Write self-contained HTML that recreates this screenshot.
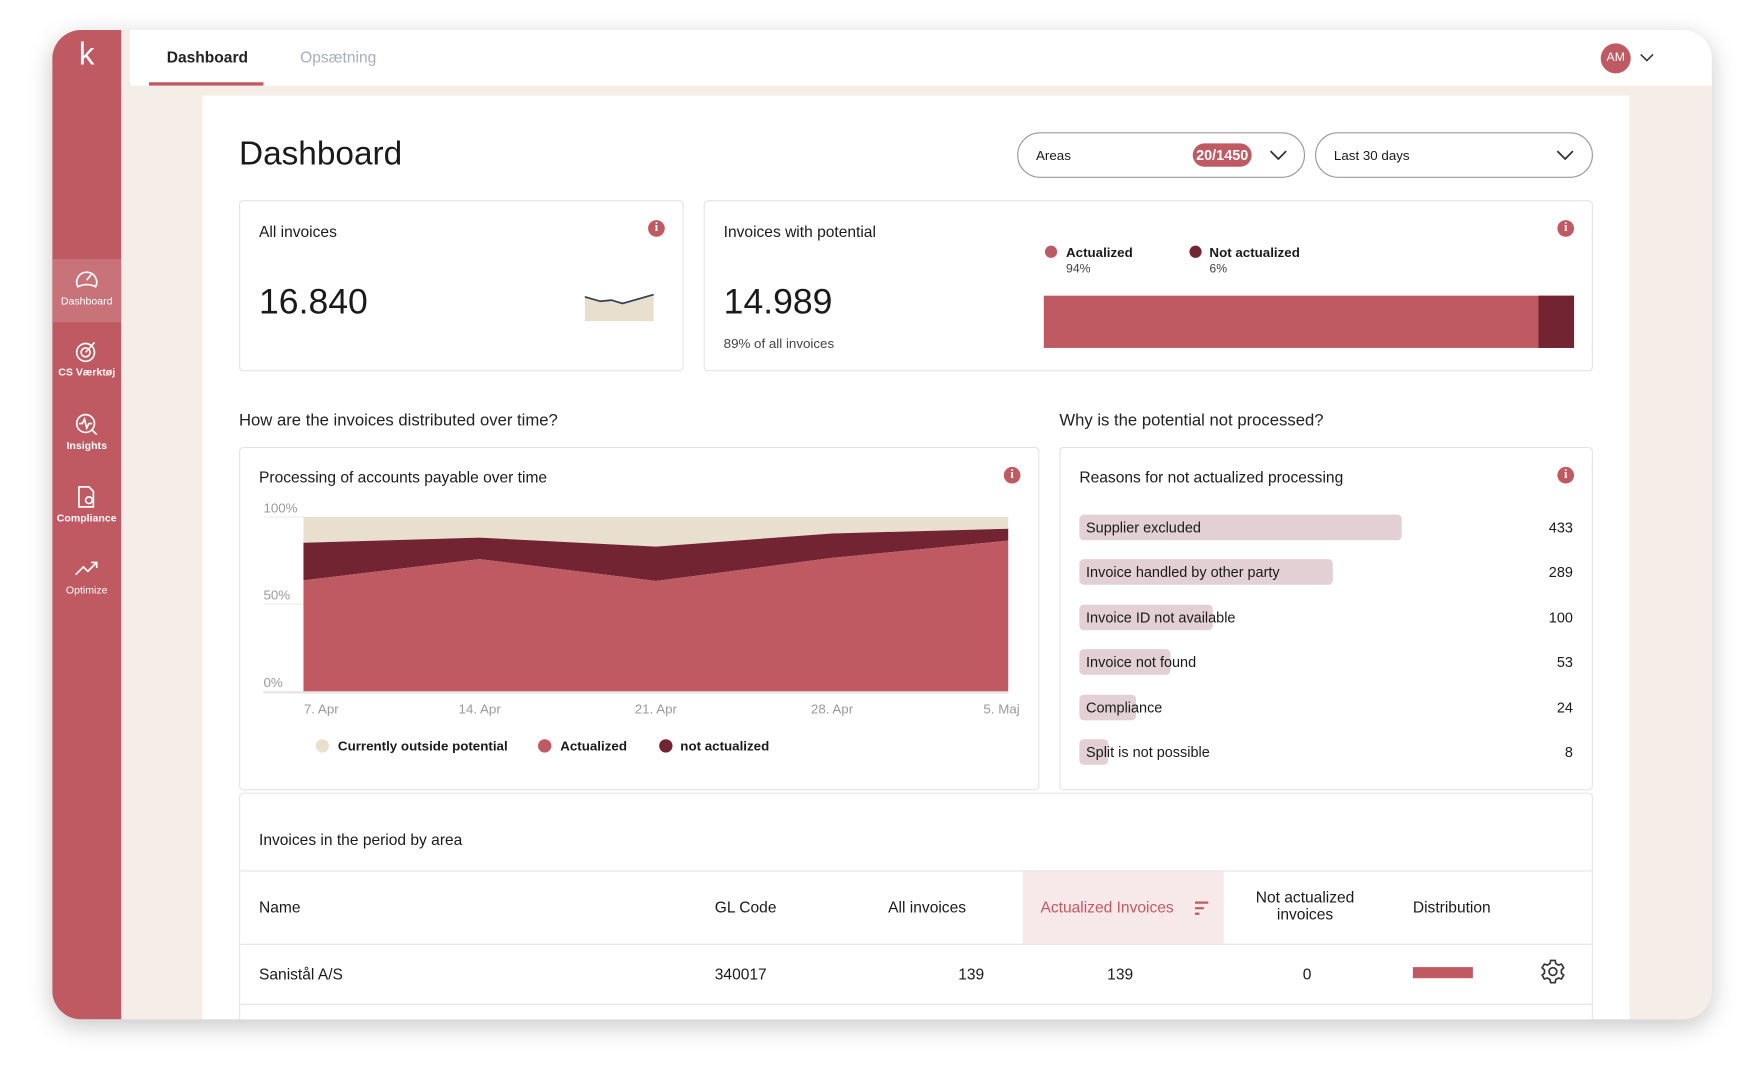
<!DOCTYPE html>
<html><head><meta charset="utf-8">
<style>
*{box-sizing:border-box;margin:0;padding:0}
html,body{width:1743px;height:1075px;overflow:hidden;background:#fff;font-family:"Liberation Sans",sans-serif;color:#1a1a1a}
#wrap{position:absolute;left:0;top:0;width:1568px;height:967px;transform:scale(1.11161);transform-origin:0 0}
.abs{position:absolute}
.app{left:47px;top:27px;width:1493px;height:890px;border-radius:26px;overflow:hidden;background:#f5ede7;box-shadow:0 6px 22px rgba(0,0,0,.22)}
.side{left:0;top:0;width:62px;height:890px;background:#c05a62}
.nav{left:0;width:62px;text-align:center;color:#fff;font-size:9.5px}
.nav svg{display:block;margin:0 auto}
.top{left:70px;top:0;width:1423px;height:50px;background:#fff}
.panel{left:135px;top:59px;width:1284px;height:831px;background:#fff}
.card{position:absolute;background:#fff;border:1px solid #e4e4e4;border-radius:4px}
.t14{font-size:14px}
.info{position:absolute;width:15px;height:15px;border-radius:50%;background:#c05a62;color:#fff;font-size:11px;font-weight:bold;text-align:center;line-height:15px;font-family:"Liberation Serif",serif}
.sel{position:absolute;border:1px solid #999;border-radius:21px;height:41px;font-size:12px}
</style></head><body>
<div id="wrap">
<div class="abs app">
  <div class="abs side">
    <div class="abs" style="left:0;width:62px;top:6px;text-align:center;color:#fff;font-size:28px">k</div>
    <div class="abs nav" style="top:206px;height:57px;background:#c8737a;padding-top:8px"><svg width="22" height="20" viewBox="0 0 22 20"><path d="M3 17 A9 9 0 1 1 19 17 Q11 13 3 17Z" stroke="#fff" stroke-width="1.5" fill="none"/><path d="M11 11 L15 6" stroke="#fff" stroke-width="1.5"/></svg><div style="margin-top:5px">Dashboard</div></div>
    <div class="abs nav" style="top:278px"><svg width="22" height="22" viewBox="0 0 22 22"><circle cx="10" cy="12" r="8" stroke="#fff" stroke-width="1.5" fill="none"/><circle cx="10" cy="12" r="4" stroke="#fff" stroke-width="1.5" fill="none"/><path d="M10 12 L18 3" stroke="#fff" stroke-width="1.5"/></svg><div style="margin-top:3px;font-weight:bold">CS Værktøj</div></div>
    <div class="abs nav" style="top:344px"><svg width="22" height="22" viewBox="0 0 22 22"><circle cx="10" cy="10" r="8" stroke="#fff" stroke-width="1.5" fill="none"/><path d="M4 10 H7 L9 6 L11 14 L13 10 H16 M16 16 L20 20" stroke="#fff" stroke-width="1.5" fill="none"/></svg><div style="margin-top:3px;font-weight:bold">Insights</div></div>
    <div class="abs nav" style="top:409px"><svg width="22" height="22" viewBox="0 0 22 22"><path d="M4 2 H13 L17 6 V20 H4Z" stroke="#fff" stroke-width="1.5" fill="none"/><circle cx="13" cy="14" r="3" stroke="#fff" stroke-width="1.5" fill="none"/></svg><div style="margin-top:3px;font-weight:bold">Compliance</div></div>
    <div class="abs nav" style="top:474px"><svg width="24" height="20" viewBox="0 0 24 20"><path d="M2 16 L9 9 L13 13 L21 5 M16 5 H21 V10" stroke="#fff" stroke-width="1.5" fill="none"/></svg><div style="margin-top:5px">Optimize</div></div>
  </div>
  <div class="abs top">
    <div class="abs" style="left:33px;top:16px;font-size:14px;font-weight:bold;color:#222">Dashboard</div>
    <div class="abs" style="left:17px;top:47px;width:103px;height:3px;background:#c05a62"></div>
    <div class="abs" style="left:153px;top:16px;font-size:14px;color:#a7adc0">Opsætning</div>
    <div class="abs" style="left:1323px;top:12px;width:27px;height:27px;border-radius:50%;background:#c05a62;color:#fff;font-size:11px;text-align:center;line-height:27px">AM</div>
    <svg class="abs" style="left:1358px;top:21px" width="13" height="8"><path d="M1 1 L6.5 6.5 L12 1" stroke="#333" stroke-width="1.4" fill="none"/></svg>
  </div>
  <div class="abs panel"></div>
</div>

<div class="abs" style="left:215px;top:122px;font-size:30px">Dashboard</div>
<div class="sel" style="left:915px;top:119px;width:259px">
  <span class="abs" style="left:16px;top:13px">Areas</span>
  <span class="abs" style="left:157px;top:9px;background:#c05a62;color:#fff;border-radius:11px;padding:3px 3px;font-size:13px;font-weight:bold">20/1450</span>
  <svg class="abs" style="left:226px;top:15px" width="16" height="10"><path d="M1 1 L8 8 L15 1" stroke="#333" stroke-width="1.6" fill="none"/></svg>
</div>
<div class="sel" style="left:1183px;top:119px;width:250px">
  <span class="abs" style="left:16px;top:13px">Last 30 days</span>
  <svg class="abs" style="left:216px;top:15px" width="16" height="10"><path d="M1 1 L8 8 L15 1" stroke="#333" stroke-width="1.6" fill="none"/></svg>
</div>

<div class="card" style="left:215px;top:180px;width:400px;height:154px">
  <div class="abs t14" style="left:17px;top:19px">All invoices</div>
  <div class="info" style="left:367px;top:17px">i</div>
  <div class="abs" style="left:17px;top:72px;font-size:32px">16.840</div>
  <svg class="abs" style="left:310px;top:78px" width="64" height="30"><path d="M0 8 L14 12 L24 11 L34 14 L48 10 L62 6 L62 30 L0 30Z" fill="#e8dfcf"/><path d="M0 8 L14 12 L24 11 L34 14 L48 10 L62 6" stroke="#2f3f55" stroke-width="1.5" fill="none"/></svg>
</div>

<div class="card" style="left:633px;top:180px;width:800px;height:154px">
  <div class="abs t14" style="left:17px;top:19px">Invoices with potential</div>
  <div class="info" style="left:767px;top:17px">i</div>
  <div class="abs" style="left:17px;top:72px;font-size:32px">14.989</div>
  <div class="abs" style="left:17px;top:121px;font-size:12px;color:#444">89% of all invoices</div>
  <div class="abs" style="left:306px;top:40px;width:11px;height:11px;border-radius:50%;background:#c05a62"></div>
  <div class="abs" style="left:325px;top:39px;font-size:12px;font-weight:bold">Actualized</div>
  <div class="abs" style="left:325px;top:55px;font-size:11px;color:#444">94%</div>
  <div class="abs" style="left:436px;top:40px;width:11px;height:11px;border-radius:50%;background:#722432"></div>
  <div class="abs" style="left:454px;top:39px;font-size:12px;font-weight:bold">Not actualized</div>
  <div class="abs" style="left:454px;top:55px;font-size:11px;color:#444">6%</div>
  <div class="abs" style="left:305px;top:85px;width:477px;height:47px;background:#c05a62"></div>
  <div class="abs" style="left:750px;top:85px;width:32px;height:47px;background:#722432"></div>
</div>

<div class="abs" style="left:215px;top:370px;font-size:15px;color:#222">How are the invoices distributed over time?</div>
<div class="abs" style="left:953px;top:370px;font-size:15px;color:#222">Why is the potential not processed?</div>

<div class="card" style="left:215px;top:402px;width:720px;height:309px">
  <div class="abs t14" style="left:17px;top:18px">Processing of accounts payable over time</div>
  <div class="info" style="left:687px;top:17px">i</div>
  <div class="abs" style="left:68px;top:262px;width:12px;height:12px;border-radius:50%;background:#e8dfcf"></div>
  <div class="abs" style="left:88px;top:261px;font-size:12px;font-weight:bold">Currently outside potential</div>
  <div class="abs" style="left:268px;top:262px;width:12px;height:12px;border-radius:50%;background:#c05a62"></div>
  <div class="abs" style="left:288px;top:261px;font-size:12px;font-weight:bold">Actualized</div>
  <div class="abs" style="left:377px;top:262px;width:12px;height:12px;border-radius:50%;background:#722432"></div>
  <div class="abs" style="left:396px;top:261px;font-size:12px;font-weight:bold">not actualized</div>
</div>
<svg class="abs" id="area" style="left:215px;top:402px" width="720" height="309"></svg>

<div class="card" style="left:953px;top:402px;width:480px;height:309px">
  <div class="abs t14" style="left:17px;top:18px">Reasons for not actualized processing</div>
  <div class="info" style="left:447px;top:17px">i</div>
  <div id="reasons"></div>
</div>

<div class="card" style="left:215px;top:713px;width:1218px;height:204px;border-bottom:none;border-radius:4px 4px 0 0">
  <div class="abs t14" style="left:17px;top:33px">Invoices in the period by area</div>
  <div class="abs" style="left:0;top:69px;width:1216px;height:1px;background:#e4e4e4"></div>
  <div class="abs" style="left:704px;top:70px;width:181px;height:65px;background:#f7e9ea"></div>
  <div class="abs" style="left:0;top:135px;width:1216px;height:1px;background:#e4e4e4"></div>
  <div class="abs" style="left:0;top:189px;width:1216px;height:1px;background:#e4e4e4"></div>
  <div class="abs t14" style="left:17px;top:94px">Name</div>
  <div class="abs t14" style="left:427px;top:94px">GL Code</div>
  <div class="abs t14" style="left:583px;top:94px">All invoices</div>
  <div class="abs t14" style="left:720px;top:94px;color:#c05a62">Actualized Invoices</div>
  <svg class="abs" style="left:858px;top:96px" width="14" height="14"><path d="M1 2H13M1 7H9M1 12H5" stroke="#c05a62" stroke-width="2"/></svg>
  <div class="abs t14" style="left:900px;top:86px;width:116px;text-align:center;line-height:15px">Not actualized invoices</div>
  <div class="abs t14" style="left:1055px;top:94px">Distribution</div>
  <div class="abs t14" style="left:17px;top:154px">Sanistål A/S</div>
  <div class="abs t14" style="left:427px;top:154px">340017</div>
  <div class="abs t14" style="left:646px;top:154px">139</div>
  <div class="abs t14" style="left:780px;top:154px">139</div>
  <div class="abs t14" style="left:956px;top:154px">0</div>
  <div class="abs" style="left:1055px;top:156px;width:54px;height:10px;background:#c05a62"></div>
  <svg class="abs" style="left:1169px;top:148px" width="24" height="24" viewBox="0 0 24 24"><circle cx="12" cy="12" r="3.5" stroke="#333" stroke-width="1.5" fill="none"/><path d="M10 2h4l.6 2.8 2.4 1.4 2.7-.9 2 3.4-2.1 1.9v2.8l2.1 1.9-2 3.4-2.7-.9-2.4 1.4L14 22h-4l-.6-2.8-2.4-1.4-2.7.9-2-3.4 2.1-1.9v-2.8L2.3 8.7l2-3.4 2.7.9 2.4-1.4Z" stroke="#333" stroke-width="1.5" fill="none"/></svg>
</div>
</div>

<script>
const dates = ["7. Apr","14. Apr","21. Apr","28. Apr","5. Maj"];
const actualized = [0.636,0.758,0.633,0.765,0.864];
const notActualized = [0.216,0.123,0.197,0.140,0.068];
const yTicks = ["0%","50%","100%"];
const reasonLabels = ["Supplier excluded","Invoice handled by other party","Invoice ID not available","Invoice not found","Compliance","Split is not possible"];
const reasonValues = [433,289,100,53,24,8];

const NS="http://www.w3.org/2000/svg";
const svg=document.getElementById('area');
const x0=58,x1=692,yTop=63,yBot=220;
const xs=i=>x0+(x1-x0)*i/(dates.length-1);
const ys=v=>yBot-(yBot-yTop)*v;
function mk(t,a){const e=document.createElementNS(NS,t);for(const k in a)e.setAttribute(k,a[k]);svg.appendChild(e);return e;}
yTicks.forEach((t,i)=>{const v=i/(yTicks.length-1);
  const l=mk('line',{x1:22,x2:x0,y1:ys(v),y2:ys(v),stroke:'#eee'});
  
  
  const tx=mk('text',{x:22,y:ys(v)-4,'font-size':12,fill:'#999','font-family':'Liberation Sans'});tx.textContent=t;
  
  
});
function area(lo,hi,fill,name){
  let d='M'+dates.map((_,i)=>xs(i)+' '+ys(hi[i])).join(' L');
  for(let i=dates.length-1;i>=0;i--)d+=' L'+xs(i)+' '+ys(lo[i]);
  const p=mk('path',{d:d+'Z',fill:fill});
  
  
}
const zero=dates.map(()=>0),one=dates.map(()=>1);
const top2=actualized.map((v,i)=>v+notActualized[i]);
area(top2,one,'#e8dfcf','outside-potential-area');
area(actualized,top2,'#722432','not-actualized-area');
area(zero,actualized,'#c05a62','actualized-area');
mk('line',{x1:22,x2:x1,y1:yBot+1,y2:yBot+1,stroke:'#e6e6e6','stroke-width':2});
dates.forEach((d,i)=>{const t=mk('text',{x:xs(i)+(i==dates.length-1?-6:(i==0?16:0)),y:yBot+20,'font-size':12,fill:'#999','text-anchor':'middle','font-family':'Liberation Sans'});t.textContent=d;
  
  
});

const rc=document.getElementById('reasons');
const maxV=Math.max(...reasonValues);
reasonLabels.forEach((lab,i)=>{
  const y=60+i*40.4;
  const b=document.createElement('div');
  b.className='abs';
  b.style.cssText=`left:17px;top:${y}px;height:23px;border-radius:4px;background:#e2d0d4;width:${Math.max(11,290*Math.pow(reasonValues[i]/maxV,0.6))}px`;
  
  
  rc.appendChild(b);
  const t=document.createElement('div');
  t.className='abs';
  t.style.cssText=`left:23px;top:${y+4}px;font-size:13px;white-space:nowrap`;
  t.textContent=lab;
  
  
  rc.appendChild(t);
  const v=document.createElement('div');
  v.className='abs';
  v.style.cssText=`right:17px;top:${y+4}px;font-size:13px`;
  v.textContent=reasonValues[i];
  
  
  rc.appendChild(v);
});
</script>
</body></html>
